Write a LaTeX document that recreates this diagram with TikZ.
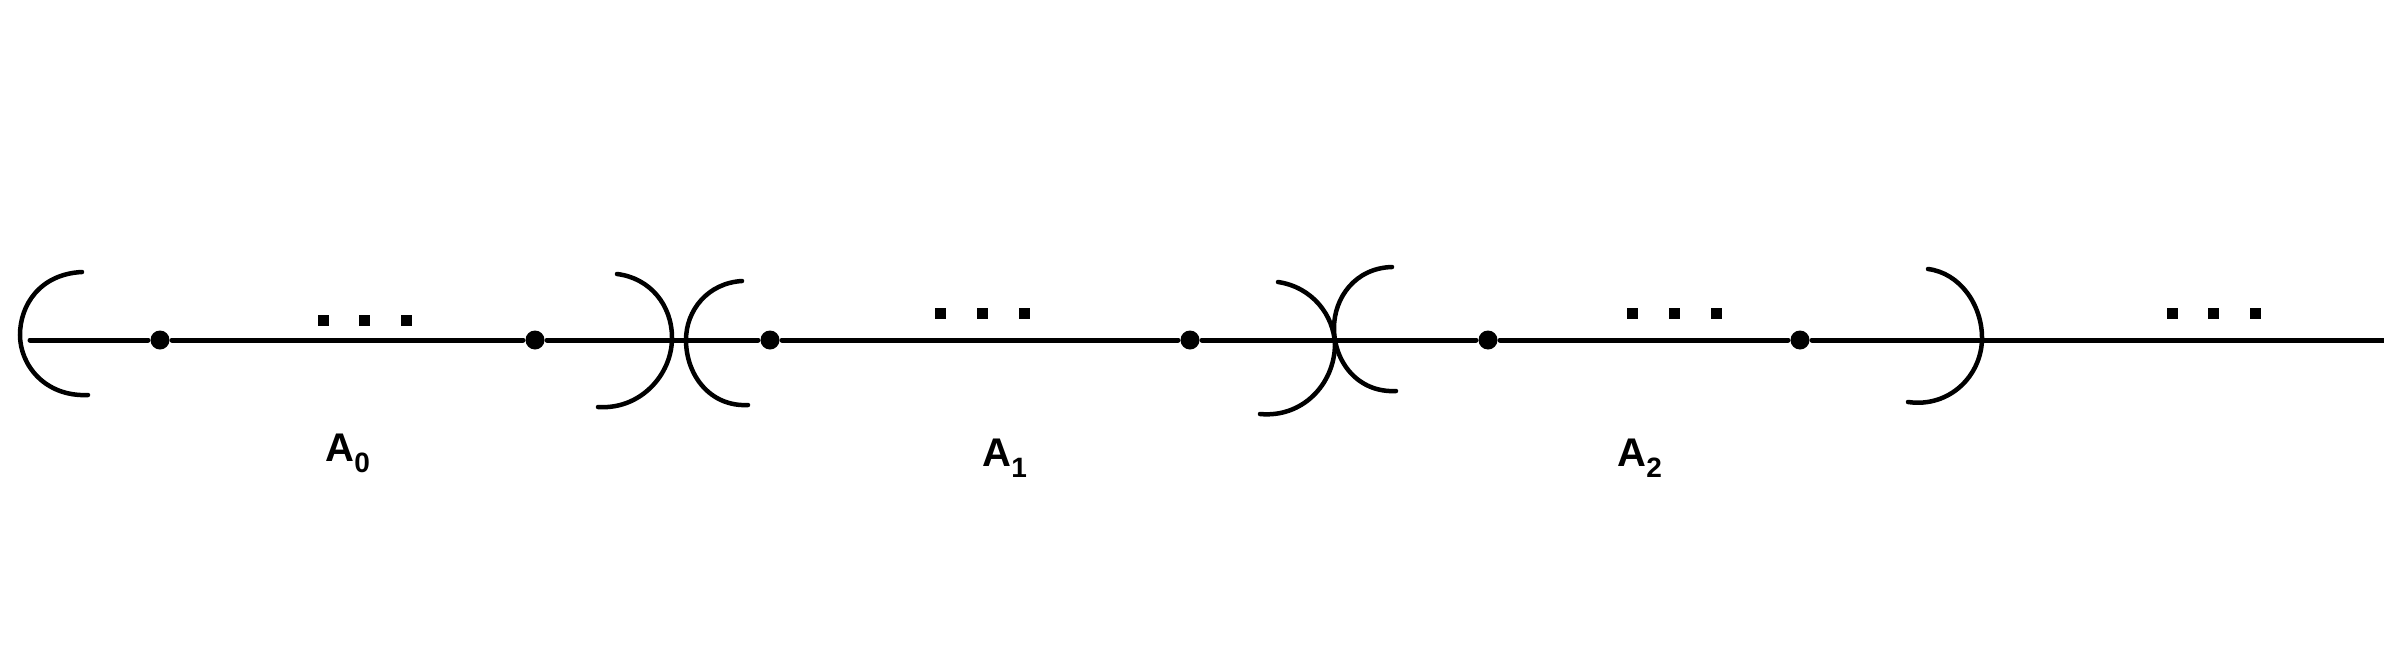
\documentclass[tikz,border=0pt]{standalone}
\usepackage{fontspec}
\setmainfont{Liberation Sans}
\begin{document}
\begin{tikzpicture}[x=1pt,y=-1pt,line width=5pt,line cap=round,
  pt/.style={circle,fill=black,inner sep=0pt,minimum size=19pt},
  sq/.style={fill=black,inner sep=0pt,minimum size=11pt},
  lab/.style={font=\fontsize{40}{46}\selectfont\bfseries,inner sep=0pt},
  br/.style={line width=4.5pt}]
\useasboundingbox (0,0) rectangle (2384,664);
\coordinate (l) at (30,340);
\coordinate (r) at (2384,340);
\foreach \n/\x in {a/160,b/535,c/770,d/1190,e/1488,f/1800}
  \node[pt] (\n) at (\x,340) {};
\draw (l) -- (a) -- (b) -- (c) -- (d) -- (e) -- (f) -- (r);
\foreach \x/\y in {323/320,364/320,406/320,940/313,982/313,1024/313,1632/313,1674/313,1716/313,2172/313,2213/313,2255/313}
  \node[sq] at (\x,\y) {};
\draw[br] (82,272) .. controls (40,274) and (20,305) .. (20,335) .. controls (20,365) and (45,397) .. (88,395);
\draw[br] (617,274) .. controls (650,278) and (672,305) .. (672,338) .. controls (672,375) and (640,410) .. (598,407);
\draw[br] (742,281) .. controls (708,283) and (686,310) .. (686,340) .. controls (686,375) and (710,407) .. (748,405);
\draw[br] (1278,282) .. controls (1312,287) and (1334,315) .. (1335,345) .. controls (1334,385) and (1302,418) .. (1260,414);
\draw[br] (1392,267) .. controls (1355,268) and (1334,298) .. (1334,328) .. controls (1334,362) and (1358,393) .. (1396,391);
\draw[br] (1928,269) .. controls (1960,273) and (1982,305) .. (1982,338) .. controls (1982,375) and (1950,408) .. (1908,402);
\node[lab] (A0) at (348,453) {A$_{\mathbf 0}$};
\node[lab] (A1) at (1005,458) {A$_{\mathbf 1}$};
\node[lab] (A2) at (1640,458) {A$_{\mathbf 2}$};
\end{tikzpicture}
\end{document}
